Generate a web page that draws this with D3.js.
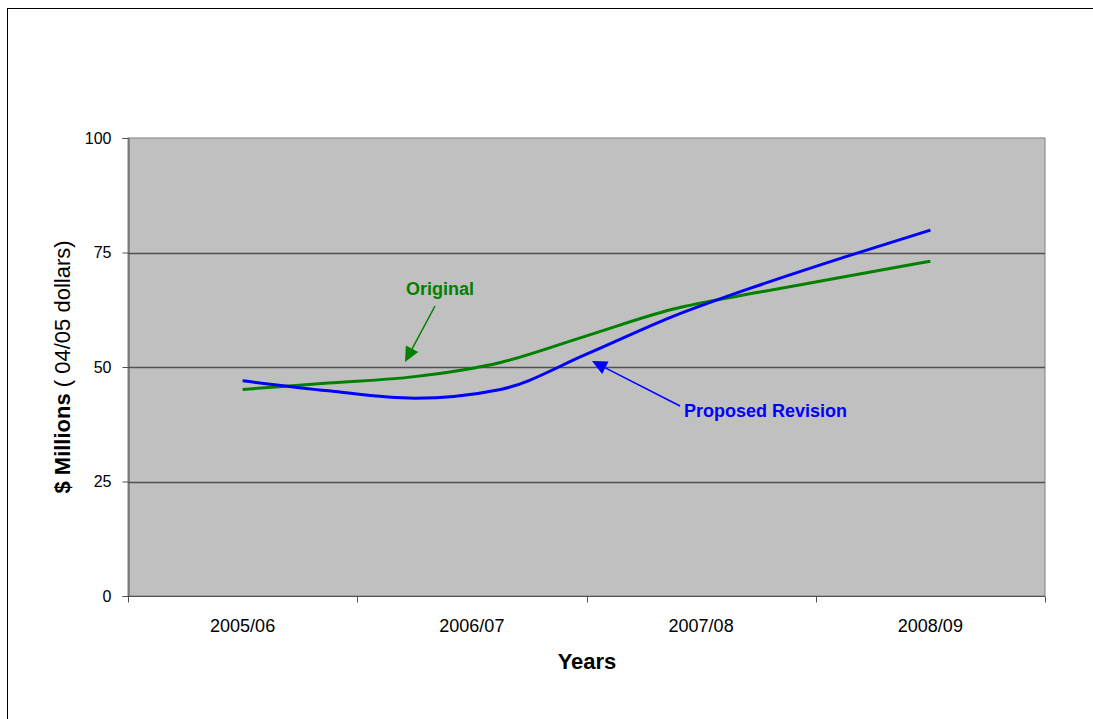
<!DOCTYPE html>
<html>
<head>
<meta charset="utf-8">
<script src="https://cdn.jsdelivr.net/npm/d3@7"></script>
<style>
  html, body { margin: 0; padding: 0; background: #fff; overflow: hidden; }
  svg { display: block; font-family: "Liberation Sans", Arial, sans-serif; }
</style>
</head>
<body>
<svg id="chart" width="1093" height="719"></svg>
<script>
// Fiscal-year categories shown on the x axis
const categories = ["2005/06", "2006/07", "2007/08", "2008/09"];
// Position of each sample, in years from the start of 2005/06
const periods = [0, 0.375, 0.75, 1.125, 1.5, 1.875, 2.25, 2.625, 3];
// $ millions (04/05 dollars)
const original = [45.1, 46.5, 47.9, 51.0, 56.8, 62.6, 66.3, 69.7, 73.1];
const proposed = [47.0, 44.8, 43.2, 45.1, 52.8, 61.0, 67.8, 74.0, 79.9];
const yTicks = [0, 25, 50, 75, 100];

const svg = d3.select("#chart");
const plotLeft = 128, plotRight = 1045, plotTop = 138, plotBottom = 596;
const band = (plotRight - plotLeft) / categories.length;

// outer frame
svg.append("rect").attr("x", 7.5).attr("y", 8.5)
  .attr("width", 1100).attr("height", 720)
  .attr("fill", "none").attr("stroke", "#000").attr("stroke-width", 1);

const x = d3.scaleLinear().domain([0, 3]).range([plotLeft + band / 2, plotRight - band / 2]);
const xBand = d3.scaleBand().domain(categories).range([plotLeft, plotRight]);
const y = d3.scaleLinear().domain([0, 100]).range([plotBottom, plotTop]);

// plot area
svg.append("rect").attr("x", plotLeft).attr("y", plotTop)
  .attr("width", plotRight - plotLeft).attr("height", plotBottom - plotTop)
  .attr("fill", "#c0c0c0").attr("stroke", "#808080").attr("stroke-width", 1);

// horizontal gridlines
svg.append("g").selectAll("line").data(yTicks.filter(d => d > 0 && d < 100)).join("line")
  .attr("x1", plotLeft).attr("x2", plotRight)
  .attr("y1", d => Math.round(y(d)) + 0.5).attr("y2", d => Math.round(y(d)) + 0.5)
  .attr("stroke", "#505050").attr("stroke-width", 1.4);

// y axis
const yAxis = svg.append("g").attr("transform", `translate(${plotLeft + 0.5},0)`)
  .call(d3.axisLeft(y).tickValues(yTicks).tickSize(6).tickPadding(11));
yAxis.select(".domain").attr("stroke", "#505050");
yAxis.selectAll(".tick line").attr("stroke", "#505050");
yAxis.selectAll(".tick text").attr("font-size", 16).attr("fill", "#000")
  .attr("font-family", "Liberation Sans, Arial, sans-serif");

// x axis: ticks on category boundaries
const xAxisG = svg.append("g").attr("transform", `translate(0,${plotBottom + 0.5})`);
xAxisG.append("line").attr("x1", plotLeft).attr("x2", plotRight).attr("stroke", "#505050");
const bounds = categories.map(c => xBand(c)).concat([plotRight]);
xAxisG.selectAll("line.tk").data(bounds).join("line").attr("class", "tk")
  .attr("x1", d => Math.round(d) + 0.5).attr("x2", d => Math.round(d) + 0.5)
  .attr("y1", 0).attr("y2", 6).attr("stroke", "#505050");
xAxisG.selectAll("text").data(categories).join("text")
  .attr("x", d => xBand(d) + xBand.bandwidth() / 2).attr("y", 35)
  .attr("text-anchor", "middle").attr("font-size", 18).attr("fill", "#000")
  .text(d => d);

// axis titles
svg.append("text").attr("x", 587).attr("y", 669).attr("text-anchor", "middle")
  .attr("font-size", 22).attr("font-weight", "bold").text("Years");
const yt = svg.append("text").attr("transform", "translate(70,367) rotate(-90)")
  .attr("text-anchor", "middle").attr("font-size", 22);
yt.append("tspan").attr("font-weight", "bold").text("$ Millions");
yt.append("tspan").text(" ( 04/05 dollars)");

// series
const line = d3.line().x((d, i) => x(periods[i])).y(d => y(d)).curve(d3.curveMonotoneX);
svg.append("path").datum(original).attr("d", line)
  .attr("fill", "none").attr("stroke", "#008000").attr("stroke-width", 3);
svg.append("path").datum(proposed).attr("d", line)
  .attr("fill", "none").attr("stroke", "#0000ff").attr("stroke-width", 3);

// annotations with arrows
function arrow(x1, y1, x2, y2, color) {
  const ang = Math.atan2(y2 - y1, x2 - x1);
  const len = 15, w = 7;
  const bx = x2 - len * Math.cos(ang), by = y2 - len * Math.sin(ang);
  svg.append("line").attr("x1", x1).attr("y1", y1).attr("x2", bx).attr("y2", by)
    .attr("stroke", color).attr("stroke-width", 1.5);
  const px = -Math.sin(ang) * w, py = Math.cos(ang) * w;
  svg.append("path")
    .attr("d", `M${x2},${y2}L${bx + px},${by + py}L${bx - px},${by - py}Z`)
    .attr("fill", color);
}
svg.append("text").attr("x", 440).attr("y", 295).attr("text-anchor", "middle")
  .attr("font-size", 18).attr("font-weight", "bold").attr("fill", "#008000").text("Original");
arrow(435, 306, 405, 362, "#008000");
svg.append("text").attr("x", 684).attr("y", 417)
  .attr("font-size", 18).attr("font-weight", "bold").attr("fill", "#0000ff").text("Proposed Revision");
arrow(680, 406, 592, 361, "#0000ff");
</script>
</body>
</html>
